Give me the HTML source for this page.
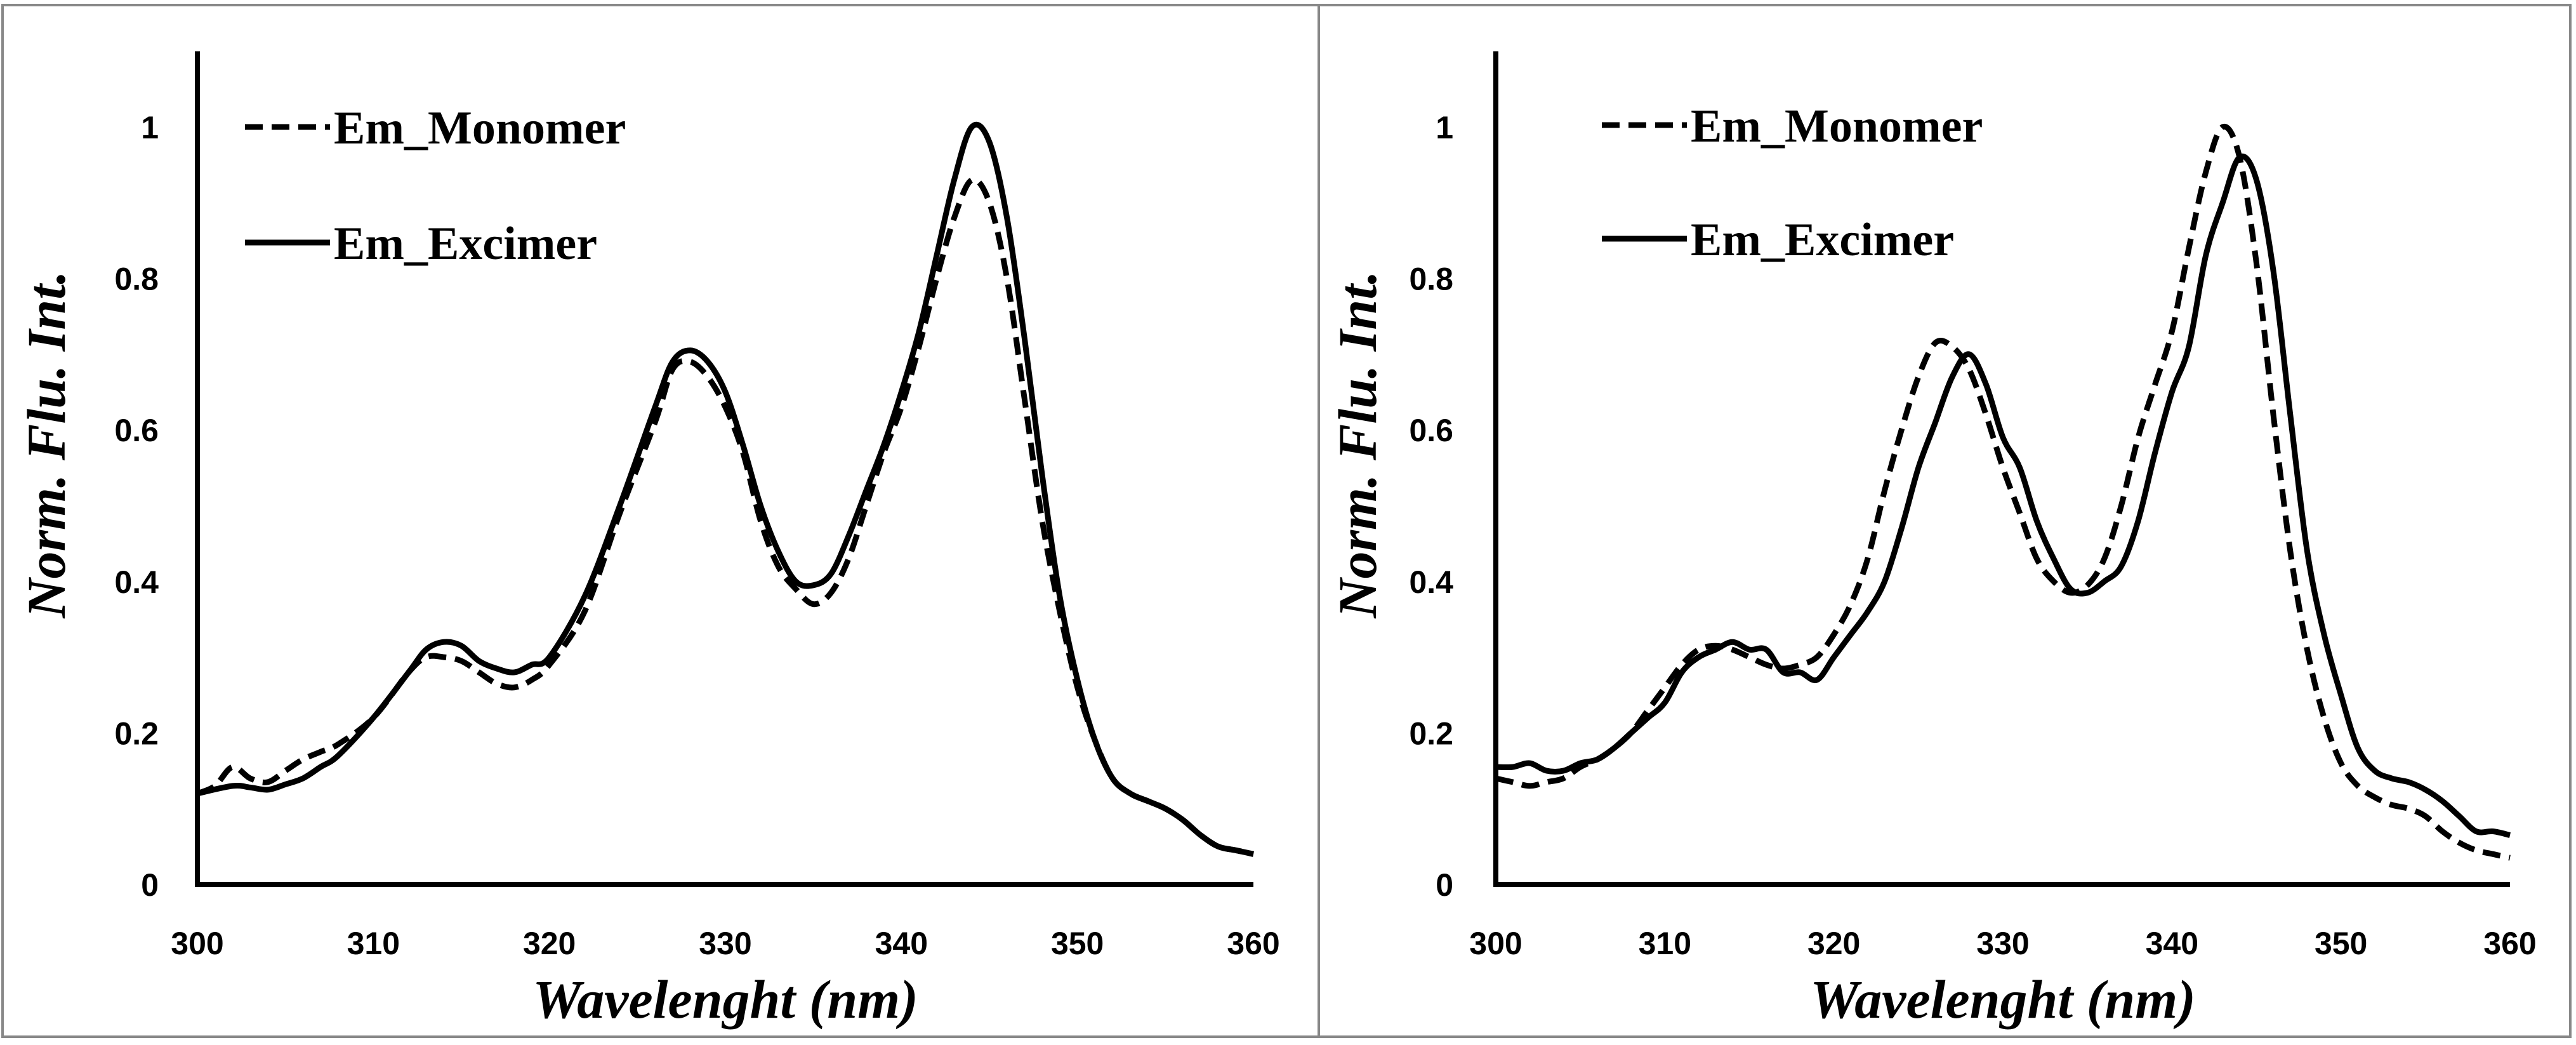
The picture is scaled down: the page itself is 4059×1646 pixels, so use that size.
<!DOCTYPE html>
<html><head><meta charset="utf-8"><style>
html,body{margin:0;padding:0;background:#fff}
svg{display:block}
</style></head><body>
<svg id="s" width="4059" height="1646" xmlns="http://www.w3.org/2000/svg">
<rect x="0" y="0" width="4059" height="1646" fill="#fff"/>
<rect x="4" y="8" width="2074" height="1625" fill="none" stroke="#888" stroke-width="4"/>
<rect x="2078" y="8" width="1972" height="1625" fill="none" stroke="#888" stroke-width="4"/>
</svg>
<script>
const xTicks=[300,310,320,330,340,350,360];
const yTicks=[0,0.2,0.4,0.6,0.8,1];
const yTickLabels=["0","0.2","0.4","0.6","0.8","1"];
const wl1=[300,301,302,303,304,305,306,307,308,310,312,313,314,315,316,317,318,319,320,322,324,326,327,328,329,330,331,332,333,334,335,336,337,338,339,340,341,342,343,344,345,346,347,348,349,350,351,352,353,354,355,356,357,358,359,360];
const leftMonomer=[0.12,0.13,0.155,0.14,0.135,0.15,0.165,0.175,0.185,0.22,0.28,0.30,0.30,0.295,0.28,0.265,0.26,0.27,0.29,0.36,0.49,0.61,0.68,0.69,0.67,0.63,0.57,0.48,0.42,0.39,0.37,0.385,0.43,0.50,0.57,0.63,0.71,0.80,0.88,0.93,0.90,0.80,0.64,0.48,0.36,0.26,0.19,0.14,0.12,0.11,0.10,0.085,0.065,0.05,0.045,0.04];
const wl2=[300,302,303,304,305,306,307,308,310,312,313,314,315,316,317,318,319,320,322,324,326,327,328,329,330,331,332,333,334,335,336,337,338,339,340,341,342,343,344,345,346,347,348,349,350,351,352,353,354,355,356,357,358,359,360];
const leftExcimer=[0.12,0.13,0.128,0.125,0.132,0.14,0.155,0.17,0.22,0.28,0.31,0.32,0.315,0.295,0.285,0.28,0.29,0.30,0.38,0.50,0.63,0.69,0.705,0.69,0.65,0.58,0.50,0.44,0.40,0.395,0.41,0.46,0.52,0.58,0.65,0.73,0.83,0.93,1.0,0.98,0.88,0.72,0.54,0.38,0.27,0.19,0.14,0.12,0.11,0.10,0.085,0.065,0.05,0.045,0.04];
const wl3=[300,301,302,303,304,305,306,307,308,309,310,311,312,313,314,315,316,317,318,319,320,321,322,323,324,325,326,327,328,329,330,331,332,333,334,335,336,337,338,339,340,341,342,343,344,345,346,347,348,349,350,351,352,353,354,355,356,357,358,359,360];
const rightMonomer=[0.14,0.135,0.13,0.135,0.14,0.155,0.165,0.18,0.20,0.23,0.26,0.29,0.31,0.315,0.31,0.30,0.29,0.285,0.29,0.30,0.33,0.37,0.43,0.52,0.60,0.67,0.715,0.71,0.68,0.62,0.55,0.49,0.43,0.40,0.385,0.395,0.43,0.50,0.59,0.66,0.73,0.84,0.94,1.0,0.96,0.82,0.62,0.44,0.31,0.22,0.16,0.13,0.115,0.105,0.10,0.09,0.07,0.055,0.045,0.04,0.035];
const rightExcimer=[0.155,0.155,0.16,0.15,0.15,0.16,0.165,0.18,0.20,0.22,0.24,0.28,0.30,0.31,0.32,0.31,0.31,0.28,0.28,0.27,0.30,0.33,0.36,0.40,0.47,0.55,0.61,0.67,0.70,0.66,0.59,0.55,0.48,0.43,0.39,0.385,0.40,0.42,0.48,0.57,0.65,0.71,0.83,0.90,0.96,0.93,0.81,0.62,0.44,0.33,0.25,0.18,0.15,0.14,0.135,0.125,0.11,0.09,0.07,0.07,0.065];

const NS="http://www.w3.org/2000/svg";
const svg=document.getElementById('s');
function mk(tag,attrs,parent){const e=document.createElementNS(NS,tag);for(const k in attrs)e.setAttribute(k,attrs[k]);(parent||svg).appendChild(e);return e;}
function smooth(pts){let d="M"+pts[0][0].toFixed(1)+","+pts[0][1].toFixed(1);for(let i=0;i<pts.length-1;i++){const p0=pts[Math.max(0,i-1)],p1=pts[i],p2=pts[i+1],p3=pts[Math.min(pts.length-1,i+2)];const c1x=p1[0]+(p2[0]-p0[0])/6,c1y=p1[1]+(p2[1]-p0[1])/6,c2x=p2[0]-(p3[0]-p1[0])/6,c2y=p2[1]-(p3[1]-p1[1])/6;d+=" C"+c1x.toFixed(1)+","+c1y.toFixed(1)+" "+c2x.toFixed(1)+","+c2y.toFixed(1)+" "+p2[0].toFixed(1)+","+p2[1].toFixed(1);}return d;}

function chart(cfg){
  const g=mk('g',{});
  
  
  const X=v=>cfg.x0+(v-300)/60*(cfg.x1-cfg.x0);
  const Y=v=>cfg.y0-v*(cfg.y0-cfg.y1);
  const series=[[cfg.wlM,cfg.mono,"28,14","monomer-line"],[cfg.wlE,cfg.exc,null,"excimer-line"]];
  series.forEach(s=>{
    const p=mk('path',{d:smooth(s[0].map((w,i)=>[X(w),Y(s[1][i])])),fill:"none",stroke:"#000","stroke-width":9,"stroke-linejoin":"round"},g);
    if(s[2])p.setAttribute('stroke-dasharray',s[2]);
    
    
  });
  const ax=mk('path',{d:`M${cfg.x0},${Y(1.1)} L${cfg.x0},${cfg.y0} L${cfg.x1},${cfg.y0}`,fill:"none",stroke:"#000","stroke-width":8},g);
  
  
  xTicks.forEach(t=>{const e=mk('text',{x:X(t),y:cfg.y0+110,"text-anchor":"middle","font-family":"Liberation Sans, sans-serif","font-weight":"bold","font-size":50},g);e.textContent=t;
    
    });
  yTicks.forEach((t,i)=>{const e=mk('text',{x:cfg.yl,y:Y(t)+18,"text-anchor":"end","font-family":"Liberation Sans, sans-serif","font-weight":"bold","font-size":50},g);e.textContent=yTickLabels[i];
    
    });
  const xt=mk('text',{x:(cfg.x0+cfg.x1)/2,y:1603,"text-anchor":"middle","font-family":"Liberation Serif, serif","font-weight":"bold","font-style":"italic","font-size":86},g);xt.textContent="Wavelenght (nm)";
  
  
  const yt=mk('text',{x:0,y:0,transform:`translate(${cfg.yt},700) rotate(-90)`,"text-anchor":"middle","font-family":"Liberation Serif, serif","font-weight":"bold","font-style":"italic","font-size":86,"xml:space":"preserve"},g);yt.textContent="Norm.  Flu. Int.";
  
  
  [["28,14",cfg.lgY1,"Em_Monomer"],[null,cfg.lgY2,"Em_Excimer"]].forEach(l=>{
    const lg=mk('g',{},g);
    
    
    const ln=mk('line',{x1:cfg.lgX,x2:cfg.lgX+134,y1:l[1],y2:l[1],stroke:"#000","stroke-width":9},lg);
    if(l[0])ln.setAttribute('stroke-dasharray',l[0]);
    const tx=mk('text',{x:cfg.lgX+140,y:l[1]+26,"font-family":"Liberation Serif, serif","font-weight":"bold","font-size":74},lg);tx.textContent=l[2];
  });
}
chart({name:"left-chart",x0:311,x1:1975,y0:1393,y1:200,yl:250,yt:102,lgX:386,lgY1:200,lgY2:382,wlM:wl1,mono:leftMonomer,wlE:wl2,exc:leftExcimer});
chart({name:"right-chart",x0:2357,x1:3955,y0:1393,y1:200,yl:2290,yt:2168,lgX:2524,lgY1:197,lgY2:376,wlM:wl3,mono:rightMonomer,wlE:wl3,exc:rightExcimer});
</script>
</body></html>
